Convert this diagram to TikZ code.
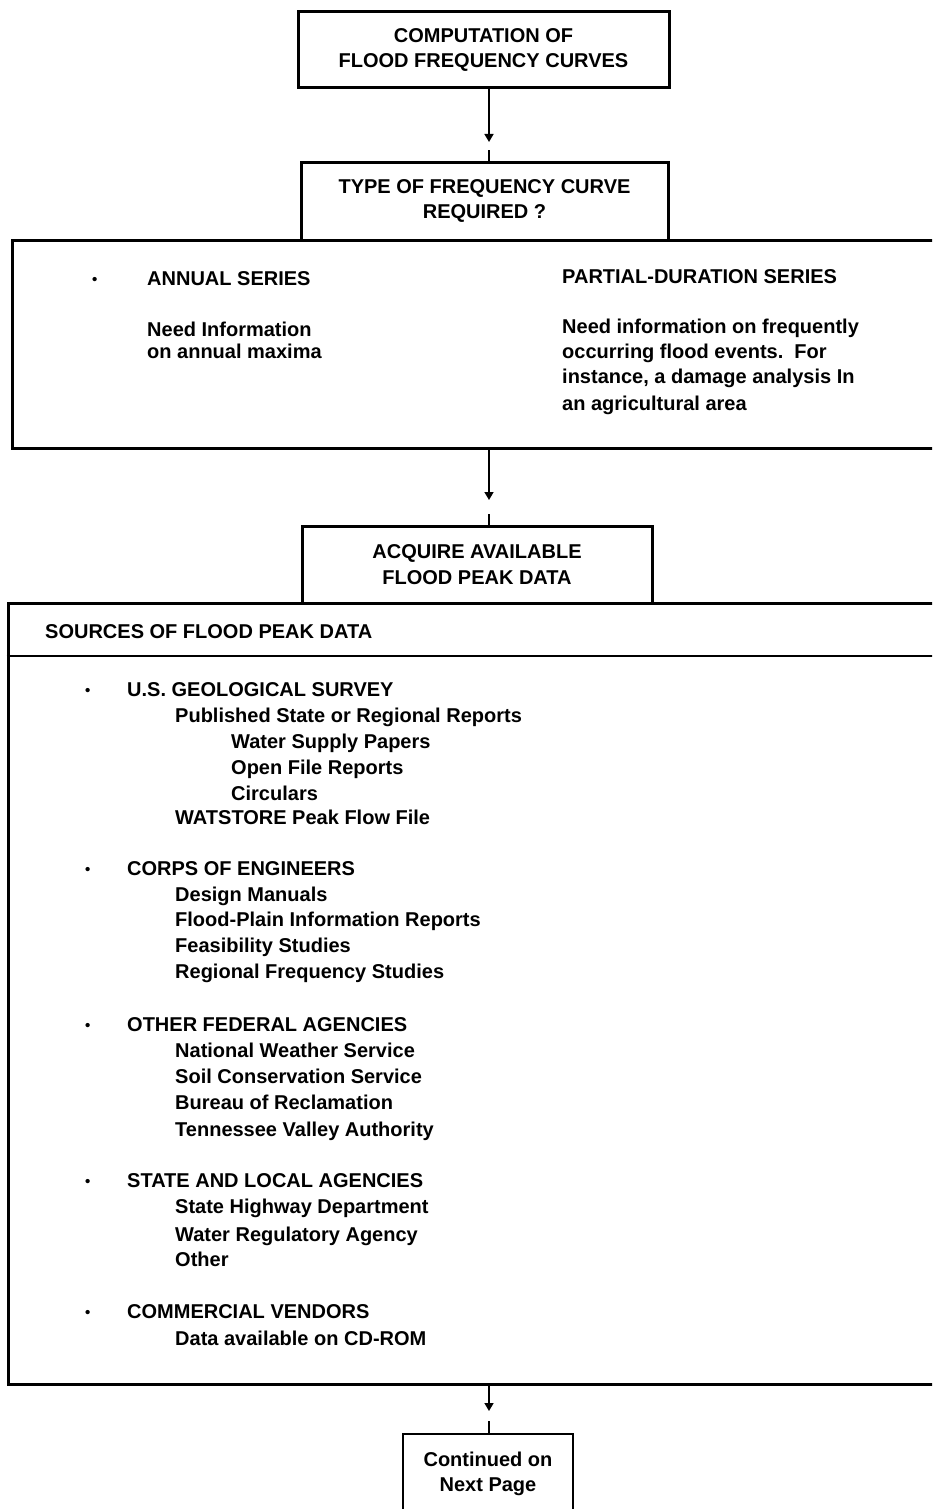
\documentclass[tikz,border=0pt]{standalone}
\usepackage{fontspec}
\setmainfont{Liberation Sans}
\usetikzlibrary{arrows.meta,calc}
\begin{document}
\begin{tikzpicture}[x=1pt,y=-1pt,
  every node/.style={font=\fontsize{20}{25.5}\selectfont\bfseries},
  box/.style={draw, line width=3pt, inner sep=0pt, align=center},
  thinbox/.style={draw, line width=1.5pt, inner sep=0pt, align=center},
  conn/.style={line width=1.6pt},
  tip/.style={-{Triangle[width=9pt,length=8pt]}},
  txt/.style={anchor=base west, inner sep=0pt},
  bul/.style={anchor=base west, inner sep=0pt, font=\fontsize{15}{15}\selectfont\bfseries},
]
\useasboundingbox (0,0) rectangle (932,1509);
\clip (0,0) rectangle (932,1509);

% boxes
\node[box, minimum width=371pt, minimum height=76pt] (top) at (483.5,50)
  {COMPUTATION OF\\FLOOD FREQUENCY CURVES};
\node[box, minimum width=940pt, minimum height=208pt] (series) at (482,344) {};
\node[box, fill=white, minimum width=367pt, minimum height=78pt] (tab1) at (484.5,201)
  {TYPE OF FREQUENCY CURVE\\REQUIRED ?};
\node[box, minimum width=944pt, minimum height=781pt] (sources) at (480,993.5) {};
\node[box, fill=white, minimum width=350pt, minimum height=77pt] (tab2) at (477,564.5)
  {ACQUIRE AVAILABLE\\FLOOD PEAK DATA};
\node[thinbox, minimum width=170pt, minimum height=80pt] (cont) at (488,1474)
  {Continued on\\Next Page};

% connectors
\coordinate (t1) at (489,142);
\coordinate (t2) at (489,500);
\coordinate (t3) at (489,1411);
\draw[conn,tip] (top.south -| t1) -- (t1);
\draw[conn] (tab1.north -| t1) -- ++(0,-11);
\draw[conn,tip] (series.south -| t2) -- (t2);
\draw[conn] (tab2.north -| t2) -- ++(0,-11);
\draw[conn,tip] (sources.south -| t3) -- (t3);
\draw[conn] (cont.north -| t3) -- ++(0,-12);

% series box text
\node[bul] (b0) at (92,284) {•};
\node[txt] (as) at (147,285) {ANNUAL SERIES};
\node[txt] (as1) at (147,336) {Need Information};
\node[txt] (as2) at (147,358) {on annual maxima};
\node[txt] (ps) at (562,283) {PARTIAL-DURATION SERIES};
\node[txt] (ps1) at (562,333) {Need information on frequently};
\node[txt] (ps2) at (562,358) {occurring flood events.\ \ For};
\node[txt] (ps3) at (562,383) {instance, a damage analysis In};
\node[txt] (ps4) at (562,410) {an agricultural area};

% sources header
\node[txt] (hdr) at (45,638) {SOURCES OF FLOOD PEAK DATA};
\coordinate (hl) at (0,656);
\draw[line width=2.2pt] (sources.west |- hl) -- (sources.east |- hl);

% sources list
\node[bul] (b1) at (85,695) {•};
\node[txt] (u1) at (127,696) {U.S. GEOLOGICAL SURVEY};
\node[txt] (u2) at (175,722) {Published State or Regional Reports};
\node[txt] (u3) at (231,748) {Water Supply Papers};
\node[txt] (u4) at (231,774) {Open File Reports};
\node[txt] (u5) at (231,800) {Circulars};
\node[txt] (u6) at (175,824) {WATSTORE Peak Flow File};

\node[bul] (b2) at (85,874) {•};
\node[txt] (c1) at (127,875) {CORPS OF ENGINEERS};
\node[txt] (c2) at (175,901) {Design Manuals};
\node[txt] (c3) at (175,926) {Flood-Plain Information Reports};
\node[txt] (c4) at (175,952) {Feasibility Studies};
\node[txt] (c5) at (175,978) {Regional Frequency Studies};

\node[bul] (b3) at (85,1030) {•};
\node[txt] (f1) at (127,1031) {OTHER FEDERAL AGENCIES};
\node[txt] (f2) at (175,1057) {National Weather Service};
\node[txt] (f3) at (175,1083) {Soil Conservation Service};
\node[txt] (f4) at (175,1109) {Bureau of Reclamation};
\node[txt] (f5) at (175,1136) {Tennessee Valley Authority};

\node[bul] (b4) at (85,1186) {•};
\node[txt] (s1) at (127,1187) {STATE AND LOCAL AGENCIES};
\node[txt] (s2) at (175,1213) {State Highway Department};
\node[txt] (s3) at (175,1241) {Water Regulatory Agency};
\node[txt] (s4) at (175,1266) {Other};

\node[bul] (b5) at (85,1317) {•};
\node[txt] (v1) at (127,1318) {COMMERCIAL VENDORS};
\node[txt] (v2) at (175,1345) {Data available on CD-ROM};
\end{tikzpicture}
\end{document}
